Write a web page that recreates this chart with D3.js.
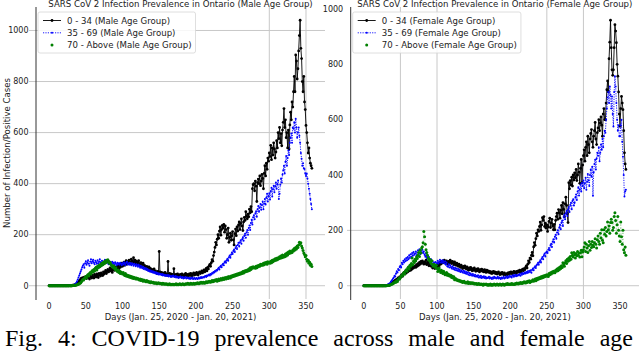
<!DOCTYPE html>
<html>
<head>
<meta charset="utf-8">
<script src="https://cdn.jsdelivr.net/npm/d3@7"></script>
<style>
  body { margin: 0; background: #fff; }
  svg { display: block; }
  text { font-family: "DejaVu Sans", sans-serif; fill: #222; }
</style>
</head>
<body>
<svg width="640" height="352"></svg>
<script>
// daily counts, day 0 = Jan. 25, 2020
const male0to34 = [
  0,0,0,0,0,0,0,0,0,0, 0,0,0,0,0,0,0,0,0,0, 0,0,0,0,0,0,0,0,1,0,
  1,0,2,1,3,2,4,6,8,10, 14,18,22,26,30,24,32,28,34,30, 36,28,34,40,32,26,38,34,30,42,
  36,30,44,38,34,46,40,32,48,42, 38,50,44,40,54,46,52,60,48,56, 64,54,60,70,58,66,52,62,72,60,
  68,74,62,70,78,66,84,72,80,88, 76,86,92,80,90,98,84,94,88,100, 92,86,104,96,90,110,94,100,88,96,
  84,92,98,86,80,90,76,84,88,74, 80,72,68,76,64,70,74,62,68,58, 64,56,60,66,54,58,52,48,56,50,
  134,54,48,52,46,50,44,48,52,42, 46,40,95,44,48,42,46,38,44,40, 67,42,38,44,40,46,36,42,38,44,
  40,46,38,42,36,44,48,40,44,38, 42,46,40,48,44,38,46,50,42,48, 44,52,46,42,50,54,48,52,58,50,
  56,62,54,60,68,58,72,66,78,84, 76,90,102,96,118,132,150,170,160,182, 200,186,214,230,198,220,236,226,240,210,
  234,220,186,200,226,170,190,206,178,196, 212,180,160,204,222,196,230,214,238,250, 220,244,262,234,216,250,268,256,290,272,
  262,280,270,300,286,310,290,380,396,400, 372,410,390,330,404,418,400,430,392,410, 436,420,380,440,470,430,480,456,500,488,
  520,506,550,494,540,512,560,536,500,524, 568,540,600,576,620,560,596,548,610,640, 694,620,650,580,600,540,610,536,630,680,
  650,720,700,760,820,760,904,880,810,850, 920,980,1040,930,890,800,760,820,720,690, 628,600,560,520,540,500,480,470,460
];
const male35to69 = [
  0,0,0,0,0,0,0,0,0,0, 0,0,0,0,0,0,0,0,0,0, 0,0,0,0,0,0,0,0,1,1,
  1,2,2,3,4,6,8,12,18,24, 32,40,48,56,64,72,78,84,70,88, 96,82,90,100,86,78,94,104,88,96,
  102,90,84,98,92,86,100,88,94,104, 92,86,98,90,84,96,102,88,92,98, 90,84,96,88,92,80,94,86,90,84,
  92,86,80,90,84,88,82,90,86,80, 88,84,92,86,80,90,94,84,88,82, 90,86,80,88,84,78,86,82,76,84,
  80,74,82,76,70,78,72,68,74,66, 70,64,68,62,66,58,62,56,60,54, 58,52,56,50,54,48,52,46,50,44,
  48,44,46,42,46,40,44,42,38,42, 40,38,42,36,40,38,34,38,36,40, 36,34,38,32,36,34,30,34,32,36,
  32,30,34,28,32,30,34,28,30,32, 28,30,26,30,28,32,26,28,30,26, 28,30,26,28,32,28,30,34,30,32,
  34,32,36,38,34,40,38,42,44,40, 46,44,50,48,54,52,58,56,62,60, 66,70,64,74,78,72,82,86,80,92,
  96,90,100,106,98,112,118,110,122,130, 124,136,142,132,148,156,144,160,168,154, 170,178,164,182,190,176,196,204,188,210,
  218,200,226,236,218,246,258,240,268,276, 260,284,292,270,300,312,290,306,320,298, 316,330,300,322,340,318,346,360,330,352,
  362,338,370,384,350,378,392,366,390,404, 380,398,412,340,360,396,420,404,436,452, 470,440,486,508,470,500,530,512,560,580,
  596,560,620,615,640,600,654,620,580,600, 620,588,560,520,497,470,480,460,457,440, 430,440,420,400,380,360,340,320,300
];
const male70plus = [
  0,0,0,0,0,0,0,0,0,0, 0,0,0,0,0,0,0,0,0,0, 0,0,0,0,0,0,0,0,0,0,
  0,0,1,1,1,2,2,3,4,5, 6,8,10,12,16,20,24,22,28,32, 36,30,40,44,38,48,52,46,56,60,
  54,64,58,68,72,62,76,70,80,74, 84,78,88,82,92,86,96,90,100,94, 102,96,88,92,84,80,76,72,78,68,
  64,70,60,56,62,52,58,48,54,50, 46,52,44,40,48,38,42,36,40,34, 38,32,36,30,34,28,32,30,26,30,
  26,28,24,22,26,20,24,22,18,22, 20,18,16,20,16,18,14,16,12,16, 14,12,14,10,12,10,12,8,10,12,
  10,8,10,8,6,10,8,6,8,6, 8,6,4,6,8,4,6,4,6,4, 6,4,6,8,4,6,4,6,8,6,
  4,6,8,6,4,6,8,6,8,10, 6,8,6,10,8,6,8,10,6,8, 10,8,12,10,8,12,10,14,12,10,
  14,12,10,14,16,12,16,14,18,16, 14,18,20,16,20,18,22,20,24,18, 22,26,20,24,28,22,26,30,24,28,
  32,26,30,34,28,36,32,30,38,34, 40,36,42,38,44,40,46,42,48,44, 50,46,52,48,56,50,58,54,60,56,
  62,58,66,60,70,64,72,68,74,70, 72,68,76,70,78,74,80,76,84,80, 84,80,88,82,90,86,92,84,94,90,
  92,88,96,90,100,94,102,98,106,100, 108,102,110,106,114,108,116,110,120,112, 118,114,124,116,128,120,132,126,136,128,
  134,130,140,136,146,140,150,144,156,150, 160,170,164,168,156,148,138,128,122,114, 118,104,96,100,88,92,80,84,75
];
const female0to34 = [
  0,0,0,0,0,0,0,0,0,0, 0,0,0,0,0,0,0,0,0,0, 0,0,0,0,0,0,0,0,0,1,
  0,1,1,2,1,3,4,6,8,10, 12,16,14,20,18,24,22,28,26,32, 30,36,40,34,44,48,42,52,46,56,
  50,58,54,62,56,66,60,70,64,68, 72,66,76,70,80,74,84,78,88,82, 90,84,78,86,80,92,76,82,88,72,
  78,84,70,76,64,72,68,62,70,66, 74,68,80,72,84,78,88,82,90,84, 92,86,80,90,84,78,88,82,92,86,
  80,88,84,76,86,80,74,82,76,70, 78,72,66,74,68,62,70,64,72,66, 60,68,62,56,64,58,66,60,54,62,
  56,64,58,52,60,54,62,56,50,58, 54,60,52,56,50,58,52,48,56,50, 54,48,52,46,50,44,48,52,46,50,
  44,48,42,46,50,44,40,46,42,48, 44,40,46,42,38,44,40,46,42,48, 44,50,46,42,48,52,46,50,44,52,
  48,54,50,56,52,48,56,60,54,62, 58,66,72,64,78,90,84,100,96,110, 120,108,140,156,146,170,190,180,202,196,
  214,230,200,220,246,236,250,214,226,208, 220,196,213,232,244,210,226,240,216,202, 222,202,236,250,262,240,275,264,244,272,
  290,260,300,276,250,296,320,290,260,228, 372,350,380,364,392,360,400,382,408,390, 420,380,400,440,410,370,424,456,372,436,
  470,491,450,500,520,470,540,510,480,530, 550,564,520,500,540,560,590,530,510,553, 570,600,560,588,610,580,540,620,640,600,
  600,660,708,740,700,820,880,959,860,780, 760,780,860,943,920,878,800,757,700,620, 576,640,684,660,636,560,480,440,420
];
const female35to69 = [
  0,0,0,0,0,0,0,0,0,0, 0,0,0,0,0,0,0,0,0,0, 0,0,0,0,0,0,0,0,1,1,
  1,2,3,4,6,8,10,14,18,22, 26,30,36,33,44,52,48,60,56,68, 72,66,83,78,90,84,96,88,100,92,
  104,96,110,100,114,105,118,108,122,112, 116,124,110,120,128,119,132,114,126,120, 130,118,124,112,105,116,100,108,96,104,
  92,86,96,76,88,80,84,74,86,78, 82,90,80,86,94,84,90,83,92,86, 80,88,76,84,70,69,78,66,74,68,
  62,70,60,66,58,64,56,62,54,60, 52,58,50,56,51,48,54,46,52,44, 50,42,48,40,46,38,44,40,36,42,
  38,34,40,33,36,32,38,30,34,30, 36,28,32,30,34,28,32,26,30,28, 29,32,26,30,28,24,30,26,32,28,
  30,26,28,32,26,30,28,24,30,26, 28,32,26,29,30,34,28,32,30,36, 32,34,30,36,38,32,36,40,34,38,
  36,40,38,42,36,44,40,46,42,44, 48,44,50,46,52,48,54,50,56,47, 58,62,56,66,70,64,74,78,83,76,
  86,92,84,98,104,96,110,116,106,120, 124,118,130,136,128,146,152,140,160,168, 156,177,184,170,192,200,186,210,220,204,
  228,236,216,248,256,240,262,270,252,275, 284,266,292,300,276,306,312,290,300,320, 330,310,340,356,326,348,366,340,372,360,
  380,352,370,390,347,376,404,380,360,400, 420,394,430,325,410,440,455,420,460,480, 470,500,450,480,510,491,530,500,540,560,
  553,600,640,680,700,660,720,690,640,684, 620,575,700,757,720,660,600,560,580,540, 540,580,600,520,466,400,322,340,347
];
const female70plus = [
  0,0,0,0,0,0,0,0,0,0, 0,0,0,0,0,0,0,0,0,0, 0,0,0,0,0,0,0,0,0,0,
  0,0,1,1,2,2,3,4,5,6, 8,10,12,14,13,18,15,22,26,24, 30,34,38,36,44,48,42,54,58,52,
  64,68,60,74,70,80,100,76,88,84, 96,90,104,98,110,120,106,128,118,136, 141,155,196,177,150,130,120,110,100,92,
  96,86,80,90,76,70,78,72,66,74, 62,51,58,64,54,48,56,50,44,52, 46,40,44,48,38,42,36,40,34,38,
  30,34,28,32,22,26,24,20,22,18, 20,16,18,14,16,12,14,16,12,10, 12,10,14,8,10,12,8,10,11,8,
  10,6,8,6,8,4,6,8,4,6, 4,6,4,2,6,4,4,6,4,2, 4,2,4,6,2,4,2,4,6,4,
  2,4,6,4,2,4,6,4,2,4, 6,4,2,4,6,4,8,4,6,4, 6,4,8,6,4,6,4,8,6,10,
  8,6,10,8,12,10,8,12,10,14, 12,10,14,12,16,14,18,12,16,15, 18,22,16,20,24,18,26,22,28,24,
  30,26,32,28,34,30,36,32,38,34, 40,36,33,44,40,47,42,50,46,52, 48,47,56,52,60,54,64,58,68,62,
  72,66,83,76,70,83,90,80,96,88, 100,92,106,96,119,110,104,120,112,100, 116,108,124,110,118,104,119,128,105,122,
  130,140,155,124,150,136,120,144,160,128, 150,138,160,146,141,155,170,150,136,166, 180,160,150,190,172,202,164,155,202,186,
  210,180,196,230,202,216,190,228,240,228, 200,210,250,264,236,190,220,250,200,180, 160,230,177,150,200,130,119,140,110
];

const xTicks = [0, 50, 100, 150, 200, 250, 300, 350];
const yTicks = [0, 200, 400, 600, 800, 1000];

const svg = d3.select("svg");
const plotTop = 7, plotBottom = 299;

const styles = [
  { color: "#000", dash: null, width: 0.9, r: 1.4, line: true },
  { color: "#0000ff", dash: "1.2,1.2", width: 0.9, r: 1.0, line: true },
  { color: "#008000", dash: "1,2", width: 0.7, r: 1.5, line: false }
];

const panels = [
  {
    title: "SARS CoV 2 Infection Prevalence in Ontario (Male Age Group)",
    series: [male0to34, male35to69, male70plus],
    names: ["0 - 34 (Male Age Group)", "35 - 69 (Male Age Group)", "70 - Above (Male Age Group)"],
    left: 36, right: 325, gridStart: 29,
    vGrid: [300, 350], hGrid: yTicks, ylabel: true
  },
  {
    title: "SARS CoV 2 Infection Prevalence in Ontario (Female Age Group)",
    series: [female0to34, female35to69, female70plus],
    names: ["0 - 34 (Female Age Group)", "35 - 69 (Female Age Group)", "70 - Above (Female Age Group)"],
    left: 350.7, right: 639, gridStart: 347,
    vGrid: [50, 100, 250, 300], hGrid: [0, 200], ylabel: false
  }
];

panels.forEach(p => {
  const n = p.series[0].length;
  const maxV = d3.max(p.series, s => d3.max(s));
  const xPad = (n - 1) * 0.05, yPad = maxV * 0.05;
  const x = d3.scaleLinear().domain([-xPad, n - 1 + xPad]).range([p.left, p.right]);
  const y = d3.scaleLinear().domain([-yPad, maxV + yPad]).range([plotBottom, plotTop]);
  const g = svg.append("g");

  // grid
  g.selectAll(".hg").data(p.hGrid).enter().append("line")
    .attr("x1", p.gridStart).attr("x2", p.right)
    .attr("y1", d => y(d)).attr("y2", d => y(d))
    .attr("stroke", "#c8c8c8").attr("stroke-width", 1);
  g.selectAll(".vg").data(p.vGrid).enter().append("line")
    .attr("x1", d => x(d)).attr("x2", d => x(d))
    .attr("y1", plotTop).attr("y2", plotBottom)
    .attr("stroke", "#c8c8c8").attr("stroke-width", 1);

  // left spine
  g.append("line")
    .attr("x1", p.left).attr("x2", p.left).attr("y1", plotTop).attr("y2", plotBottom + 1)
    .attr("stroke", "#333").attr("stroke-width", 1);

  // tick labels
  g.selectAll(".yt").data(yTicks).enter().append("text")
    .attr("x", p.left - 7.5).attr("y", d => y(d)).attr("dy", "0.35em")
    .attr("text-anchor", "end").attr("font-size", 8).text(d => d);
  g.selectAll(".xt").data(xTicks).enter().append("text")
    .attr("x", d => x(d)).attr("y", 308.5)
    .attr("text-anchor", "middle").attr("font-size", 8).text(d => d);

  const cx = (p.left + p.right) / 2;
  g.append("text").attr("x", cx).attr("y", 319.5).attr("text-anchor", "middle")
    .attr("font-size", 8.5).text("Days (Jan. 25, 2020 - Jan. 20, 2021)");
  g.append("text").attr("x", cx).attr("y", 7.4).attr("text-anchor", "middle")
    .attr("font-size", 8.6).text(p.title);

  if (p.ylabel) {
    g.append("text").attr("transform", `translate(10,${(plotTop + plotBottom) / 2}) rotate(-90)`)
      .attr("text-anchor", "middle").attr("font-size", 8.6)
      .text("Number of Infection/Positive Cases");
  }

  // series
  p.series.forEach((s, i) => {
    const st = styles[i];
    const line = d3.line().x((d, j) => x(j)).y(d => y(d));
    g.append("path").datum(s)
      .attr("d", line).attr("fill", "none")
      .attr("stroke", st.color).attr("stroke-width", st.width)
      .attr("stroke-dasharray", st.dash)
      .attr("opacity", st.line ? 1 : 0.55);
    g.append("g").selectAll("circle").data(s).enter().append("circle")
      .attr("cx", (d, j) => x(j)).attr("cy", d => y(d))
      .attr("r", st.r).attr("fill", st.color);
  });

  // legend
  const lg = g.append("g").attr("transform", `translate(${p.left + 2},12)`);
  const box = lg.append("rect").attr("height", 41).attr("rx", 2)
    .attr("fill", "#fff").attr("fill-opacity", 0.85)
    .attr("stroke", "#d6d6d6").attr("stroke-width", 0.8);
  let textEnd = 0;
  p.names.forEach((name, i) => {
    const st = styles[i];
    const ly = 8.5 + i * 12.3;
    if (st.line) {
      lg.append("line").attr("x1", 5).attr("x2", 23).attr("y1", ly).attr("y2", ly)
        .attr("stroke", st.color).attr("stroke-width", st.width)
        .attr("stroke-dasharray", st.dash);
    }
    lg.append("circle").attr("cx", 14).attr("cy", ly).attr("r", st.r).attr("fill", st.color);
    const t = lg.append("text").attr("x", 29).attr("y", ly).attr("dy", "0.35em")
      .attr("font-size", 8.6).text(name);
    textEnd = Math.max(textEnd, 29 + t.node().getComputedTextLength());
  });
  box.attr("width", textEnd + 4);
});

// caption, justified across the page
const words = "Fig. 4: COVID-19 prevalence across male and female age".split(" ");
const cap = svg.append("g");
const nodes = words.map(w => cap.append("text")
  .attr("y", 346.3).attr("font-size", 24)
  .style("font-family", '"Liberation Serif", "Times New Roman", serif')
  .style("fill", "#000").text(w));
const widths = nodes.map(t => t.node().getComputedTextLength());
const gap = (633 - 5 - d3.sum(widths)) / (words.length - 1);
let cur = 5;
nodes.forEach((t, i) => { t.attr("x", cur); cur += widths[i] + gap; });
</script>
</body>
</html>
